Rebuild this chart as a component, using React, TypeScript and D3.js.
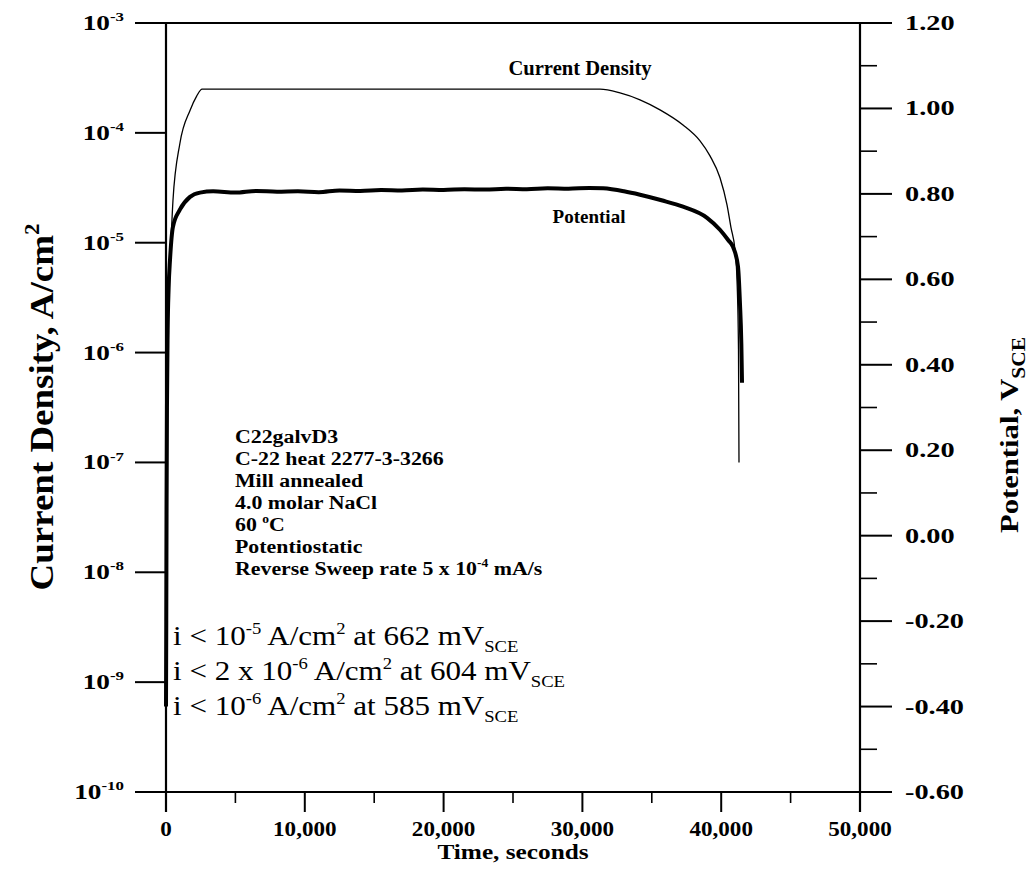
import React from "react";
import * as d3 from "d3";

// ---- data ----
const timeMajorTicks = [0, 10000, 20000, 30000, 40000, 50000];
const timeMinorTicks = [5000, 15000, 25000, 35000, 45000];
const currentExponents = [-3, -4, -5, -6, -7, -8, -9, -10];
const potentialMajorTicks = [1.2, 1.0, 0.8, 0.6, 0.4, 0.2, 0.0, -0.2, -0.4, -0.6];
const potentialMinorTicks = [1.1, 0.9, 0.7, 0.5, 0.3, 0.1, -0.1, -0.3, -0.5];

const currentTime = [0, 15, 35, 60, 100, 170, 290, 500, 1000, 1730, 2200, 2600, 31268, 32709, 34150, 35591, 37248, 38473, 39193, 39914, 40418, 40706, 40994, 41138, 41246, 41282];
const currentValue = [2e-10, 1e-9, 3e-8, 5e-7, 2e-6, 4.5e-6, 7.1e-6, 2.4e-5, 8e-5, 1.6e-4, 2.15e-4, 2.5e-4, 2.5e-4, 2.31e-4, 2.0e-4, 1.62e-4, 1.18e-4, 8.46e-5, 6.18e-5, 3.9e-5, 2.21e-5, 1.37e-5, 8.6e-6, 4.6e-6, 1.07e-6, 1e-7];

const potentialTime = [0, 20, 40, 70, 120, 190, 290, 500, 1000, 1730, 2450, 3400, 5000, 6500, 8000, 9500, 11000, 12500, 14000, 15500, 17000, 18500, 20000, 21500, 23000, 24500, 26000, 27500, 29000, 30500, 31500, 33000, 34150, 35700, 37250, 38980, 39910, 40500, 40850, 41210, 41350, 41450, 41500];
const potentialValue = [-0.4, -0.2, 0.05, 0.3, 0.48, 0.58, 0.646, 0.723, 0.763, 0.793, 0.803, 0.806, 0.803, 0.807, 0.805, 0.806, 0.804, 0.808, 0.807, 0.809, 0.808, 0.81, 0.809, 0.811, 0.81, 0.812, 0.811, 0.813, 0.812, 0.814, 0.813, 0.806, 0.798, 0.785, 0.77, 0.744, 0.716, 0.692, 0.676, 0.63, 0.545, 0.45, 0.358];

const infoLines = [
  [{ t: "C22galvD3" }],
  [{ t: "C-22 heat 2277-3-3266" }],
  [{ t: "Mill annealed" }],
  [{ t: "4.0 molar NaCl" }],
  [{ t: "60 " }, { t: "o", sup: true }, { t: "C" }],
  [{ t: "Potentiostatic" }],
  [{ t: "Reverse Sweep rate 5 x 10" }, { t: "-4", sup: true }, { t: " mA/s" }],
];

const noteLines = [
  [{ t: "i < 10" }, { t: "-5", sup: true }, { t: " A/cm" }, { t: "2", sup: true }, { t: " at 662 mV" }, { t: "SCE", sub: true }],
  [{ t: "i < 2 x 10" }, { t: "-6", sup: true }, { t: " A/cm" }, { t: "2", sup: true }, { t: " at 604 mV" }, { t: "SCE", sub: true }],
  [{ t: "i < 10" }, { t: "-6", sup: true }, { t: " A/cm" }, { t: "2", sup: true }, { t: " at 585 mV" }, { t: "SCE", sub: true }],
];

const FONT = "'Liberation Serif', 'Times New Roman', serif";

type Seg = { t: string; sup?: boolean; sub?: boolean };

function Rich({ x, y, size, weight = "bold", segs, anchor = "start", supScale = 0.62, sx = 1, rotate = 0 }: any) {
  let shift = 0;
  const out: any[] = [];
  (segs as Seg[]).forEach((s, i) => {
    const target = s.sup ? -size * 0.42 : s.sub ? size * 0.25 : 0;
    const dy = target - shift;
    shift = target;
    out.push(
      <tspan key={i} dy={dy} fontSize={s.sup || s.sub ? size * supScale : size}>
        {s.t}
      </tspan>
    );
  });
  return (
    <g transform={`translate(${x},${y}) rotate(${rotate}) scale(${sx},1)`}>
      <text x={0} y={0} fontSize={size} fontWeight={weight} fontFamily={FONT} textAnchor={anchor} fill="#000">
        {out}
      </text>
    </g>
  );
}

export default function App() {
  const W = 1030, H = 889;
  const x0 = 166, x1 = 860, yTop = 23, yBot = 792;
  const x = d3.scaleLinear().domain([0, 50000]).range([x0, x1]);
  const yL = d3.scaleLog().domain([1e-10, 1e-3]).range([yBot, yTop]);
  const yR = d3.scaleLinear().domain([-0.6, 1.2]).range([yBot, yTop]);

  const curLine = d3.line<number>()
    .x((_, i) => x(currentTime[i]))
    .y((d) => yL(d))
    .curve(d3.curveMonotoneX);
  const potLine = d3.line<number>()
    .x((_, i) => x(potentialTime[i]))
    .y((d) => yR(d))
    .curve(d3.curveMonotoneX);

  const fmt = d3.format(",");
  const majorLen = 20, minorLen = 11;

  return (
    <svg width={W} height={H} style={{ position: "absolute", left: 0, top: 0, background: "#fff" }}>
      <rect width={W} height={H} fill="#fff" />
      {/* frame */}
      <line x1={x0} x2={x1} y1={yTop} y2={yTop} stroke="#000" strokeWidth={2} />
      <line x1={x0} x2={x1} y1={yBot} y2={yBot} stroke="#000" strokeWidth={2} />
      <line x1={x0} x2={x0} y1={yTop} y2={yBot + majorLen} stroke="#000" strokeWidth={2.2} />
      <line x1={x1} x2={x1} y1={yTop} y2={yBot + majorLen} stroke="#000" strokeWidth={2.2} />

      {/* left ticks & labels */}
      {currentExponents.map((e) => {
        const yy = yL(Math.pow(10, e));
        return (
          <g key={e}>
            <line x1={x0 - 31} x2={x0} y1={yy} y2={yy} stroke="#000" strokeWidth={2} />
            <Rich x={124} y={yy + 7} size={21} sx={1.3} anchor="end" segs={[{ t: "10" }, { t: String(e), sup: true }]} />
          </g>
        );
      })}

      {/* right ticks & labels */}
      {potentialMajorTicks.map((v) => {
        const yy = yR(v);
        return (
          <g key={v}>
            <line x1={x1} x2={x1 + 32} y1={yy} y2={yy} stroke="#000" strokeWidth={2} />
            <Rich x={905} y={yy + 7} size={21} sx={1.35} segs={[{ t: v.toFixed(2) }]} />
          </g>
        );
      })}
      {potentialMinorTicks.map((v) => (
        <line key={v} x1={x1} x2={x1 + 17} y1={yR(v)} y2={yR(v)} stroke="#000" strokeWidth={1.6} />
      ))}

      {/* bottom ticks & labels */}
      {timeMajorTicks.map((t) => (
        <g key={t}>
          <line x1={x(t)} x2={x(t)} y1={yBot} y2={yBot + majorLen} stroke="#000" strokeWidth={2} />
          <Rich x={x(t)} y={836} size={21} sx={1.1} anchor="middle" segs={[{ t: fmt(t) }]} />
        </g>
      ))}
      {timeMinorTicks.map((t) => (
        <line key={t} x1={x(t)} x2={x(t)} y1={yBot} y2={yBot + minorLen} stroke="#000" strokeWidth={1.6} />
      ))}

      {/* axis titles */}
      <Rich x={513} y={859} size={22} sx={1.15} anchor="middle" segs={[{ t: "Time, seconds" }]} />
      <Rich x={53} y={407} rotate={-90} size={33} sx={1.12} anchor="middle" segs={[{ t: "Current Density, A/cm" }, { t: "2", sup: true }]} />
      <Rich x={1018} y={435} rotate={-90} size={26} sx={1.18} anchor="middle" supScale={0.7} segs={[{ t: "Potential, V" }, { t: "SCE", sub: true }]} />

      {/* curves */}
      <path d={curLine(currentValue) || ""} fill="none" stroke="#000" strokeWidth={1.3} />
      <path d={potLine(potentialValue) || ""} fill="none" stroke="#000" strokeWidth={4} strokeLinejoin="round" />

      {/* curve labels */}
      <Rich x={580} y={75} size={20} sx={1.03} anchor="middle" segs={[{ t: "Current Density" }]} />
      <Rich x={589} y={223} size={19} anchor="middle" segs={[{ t: "Potential" }]} />

      {/* info block */}
      {infoLines.map((segs, i) => (
        <Rich key={i} x={235} y={443 + i * 22} size={19} sx={1.15} segs={segs} />
      ))}

      {/* notes */}
      {noteLines.map((segs, i) => (
        <Rich key={i} x={173} y={645 + i * 35} size={27} sx={1.15} weight="normal" supScale={0.6} segs={segs} />
      ))}
    </svg>
  );
}
